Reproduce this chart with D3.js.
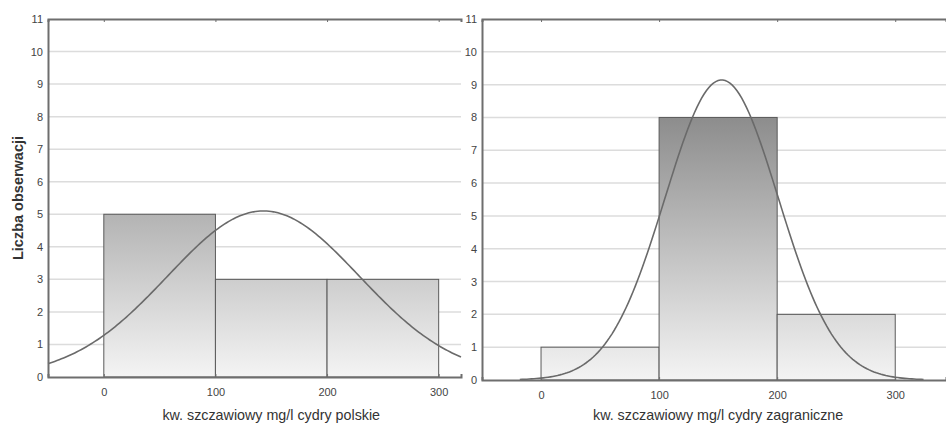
<!DOCTYPE html>
<html>
<head>
<meta charset="utf-8">
<script src="https://cdn.jsdelivr.net/npm/d3@7"></script>
<style>
  body { margin: 0; background: #fff; }
  svg { display: block; font-family: "Liberation Sans", Arial, sans-serif; }
</style>
</head>
<body>
<svg id="chart" width="946" height="425"></svg>
<script>
// data
var binEdges = [0, 100, 200, 300];
var countsPolish = [5, 3, 3];
var countsForeign = [1, 8, 2];
var xTicks = [0, 100, 200, 300];
var yTicks = [0, 1, 2, 3, 4, 5, 6, 7, 8, 9, 10, 11];
var nPolish = 11, meanPolish = 143, sdPolish = 86;
var nForeign = 11, meanForeign = 153, sdForeign = 48;
var curveRangePolish = [-50, 320];
var curveRangeForeign = [-18, 324];
var titlePolish = "kw. szczawiowy mg/l cydry polskie";
var titleForeign = "kw. szczawiowy mg/l cydry zagraniczne";
var yTitle = "Liczba obserwacji";

var panels = [
  { id: "pl", counts: countsPolish, n: nPolish, mean: meanPolish, sd: sdPolish,
    curveRange: curveRangePolish, title: titlePolish,
    domain: [-50, 320], xr: [48, 461], yr: [377, 19] },
  { id: "zg", counts: countsForeign, n: nForeign, mean: meanForeign, sd: sdForeign,
    curveRange: curveRangeForeign, title: titleForeign,
    domain: [-50, 343], xr: [482, 946], yr: [380, 19] }
];

var svg = d3.select("#chart");
var defs = svg.append("defs");

panels.forEach(function (p) {
  var x = d3.scaleLinear().domain(p.domain).range(p.xr);
  var y = d3.scaleLinear().domain([0, 11]).range(p.yr);
  var g = svg.append("g").attr("class", "panel-" + p.id);

  var grad = defs.append("linearGradient")
      .attr("id", "grad-" + p.id)
      .attr("gradientUnits", "userSpaceOnUse")
      .attr("x1", 0).attr("x2", 0)
      .attr("y1", y(11)).attr("y2", y(0));
  grad.append("stop").attr("offset", "0%").attr("stop-color", "#666");
  grad.append("stop").attr("offset", "100%").attr("stop-color", "#f4f4f4");

  // grid lines
  g.selectAll(".grid").data(yTicks.slice(1, -1)).enter().append("line")
      .attr("x1", p.xr[0]).attr("x2", p.xr[1])
      .attr("y1", function (d) { return y(d); })
      .attr("y2", function (d) { return y(d); })
      .attr("stroke", "#dcdcdc").attr("stroke-width", 1.5);

  // bars
  var bins = p.counts.map(function (c, i) { return { x0: binEdges[i], x1: binEdges[i + 1], c: c }; });
  g.selectAll(".bar").data(bins).enter().append("rect")
      .attr("x", function (d) { return x(d.x0); })
      .attr("width", function (d) { return x(d.x1) - x(d.x0); })
      .attr("y", function (d) { return y(d.c); })
      .attr("height", function (d) { return y(0) - y(d.c); })
      .attr("fill", "url(#grad-" + p.id + ")")
      .attr("stroke", "#5a5a5a").attr("stroke-width", 1);

  // fitted normal curve
  var binW = binEdges[1] - binEdges[0];
  var pts = d3.range(p.curveRange[0], p.curveRange[1] + 0.5, 2).map(function (v) {
    var z = (v - p.mean) / p.sd;
    return [v, p.n * binW * Math.exp(-0.5 * z * z) / (p.sd * Math.sqrt(2 * Math.PI))];
  });
  g.append("path").datum(pts)
      .attr("d", d3.line().x(function (d) { return x(d[0]); }).y(function (d) { return y(d[1]); }))
      .attr("fill", "none").attr("stroke", "#6a6a6a").attr("stroke-width", 1.6);

  // axes
  var xAxis = g.append("g").attr("transform", "translate(0," + y(0) + ")")
      .call(d3.axisBottom(x).tickValues(xTicks).tickSize(-3).tickPadding(11).tickFormat(d3.format("d")));
  var xTop = g.append("g").attr("transform", "translate(0," + y(11) + ")")
      .call(d3.axisTop(x).tickValues(xTicks).tickSize(-3).tickFormat(""));
  var yAxis = g.append("g").attr("transform", "translate(" + p.xr[0] + ",0)")
      .call(d3.axisLeft(y).tickValues(yTicks).tickSize(0).tickPadding(5));
  [xAxis, xTop, yAxis].forEach(function (a) {
    a.select(".domain").attr("stroke", "#6e6e6e").attr("stroke-width", 2);
    a.selectAll(".tick line").attr("stroke", "#6e6e6e");
    a.selectAll("text").attr("fill", "#444").style("font-size", "11px");
  });

  g.append("text")
      .attr("x", (x(0) + x(300)) / 2)
      .attr("y", 420)
      .attr("text-anchor", "middle")
      .attr("fill", "#333")
      .style("font-size", "14.3px")
      .text(p.title);
});

svg.append("text")
    .attr("transform", "translate(23,198) rotate(-90)")
    .attr("text-anchor", "middle")
    .attr("fill", "#333")
    .style("font-size", "14.5px")
    .style("font-weight", "bold")
    .text(yTitle);
</script>
</body>
</html>
